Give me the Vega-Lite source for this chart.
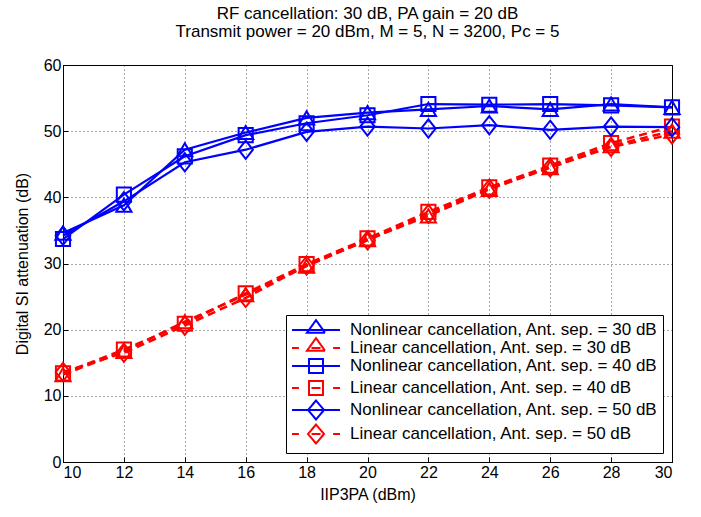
{
  "$schema": "https://vega.github.io/schema/vega-lite/v6.json",
  "width": 609,
  "height": 397,
  "padding": {"left": 14, "top": 5, "right": 5, "bottom": 5},
  "background": "white",
  "title": {
    "text": ["RF cancellation: 30 dB, PA gain = 20 dB", "Transmit power = 20 dBm, M = 5, N = 3200, Pc = 5"],
    "font": "Liberation Sans",
    "fontSize": 17,
    "fontWeight": "normal",
    "color": "black",
    "lineHeight": 18,
    "anchor": "middle",
    "offset": 16
  },
  "config": {
    "view": {"stroke": "black", "strokeWidth": 1},
    "axis": {
      "labelFont": "Liberation Sans",
      "labelFontSize": 16,
      "labelColor": "black",
      "titleFont": "Liberation Sans",
      "titleFontSize": 16,
      "titleFontWeight": "normal",
      "titleColor": "black",
      "domainColor": "black",
      "tickColor": "black",
      "tickSize": -5,
      "labelPadding": 7,
      "grid": true,
      "gridColor": "black",
      "gridDash": [1, 3],
      "gridOpacity": 0.7
    }
  },
  "data": {
    "values": [
      {"s": "Nonlinear cancellation, Ant. sep. = 30 dB", "x": 10, "y": 34.6},
      {"s": "Nonlinear cancellation, Ant. sep. = 30 dB", "x": 12, "y": 38.8},
      {"s": "Nonlinear cancellation, Ant. sep. = 30 dB", "x": 14, "y": 47.2},
      {"s": "Nonlinear cancellation, Ant. sep. = 30 dB", "x": 16, "y": 49.8},
      {"s": "Nonlinear cancellation, Ant. sep. = 30 dB", "x": 18, "y": 52.0},
      {"s": "Nonlinear cancellation, Ant. sep. = 30 dB", "x": 20, "y": 52.8},
      {"s": "Nonlinear cancellation, Ant. sep. = 30 dB", "x": 22, "y": 53.3},
      {"s": "Nonlinear cancellation, Ant. sep. = 30 dB", "x": 24, "y": 53.8},
      {"s": "Nonlinear cancellation, Ant. sep. = 30 dB", "x": 26, "y": 53.3},
      {"s": "Nonlinear cancellation, Ant. sep. = 30 dB", "x": 28, "y": 54.1},
      {"s": "Nonlinear cancellation, Ant. sep. = 30 dB", "x": 30, "y": 53.6},
      {"s": "Linear cancellation, Ant. sep. = 30 dB", "x": 10, "y": 13.2},
      {"s": "Linear cancellation, Ant. sep. = 30 dB", "x": 12, "y": 16.7},
      {"s": "Linear cancellation, Ant. sep. = 30 dB", "x": 14, "y": 21.2},
      {"s": "Linear cancellation, Ant. sep. = 30 dB", "x": 16, "y": 25.3},
      {"s": "Linear cancellation, Ant. sep. = 30 dB", "x": 18, "y": 29.6},
      {"s": "Linear cancellation, Ant. sep. = 30 dB", "x": 20, "y": 33.6},
      {"s": "Linear cancellation, Ant. sep. = 30 dB", "x": 22, "y": 37.2},
      {"s": "Linear cancellation, Ant. sep. = 30 dB", "x": 24, "y": 41.2},
      {"s": "Linear cancellation, Ant. sep. = 30 dB", "x": 26, "y": 44.5},
      {"s": "Linear cancellation, Ant. sep. = 30 dB", "x": 28, "y": 47.8},
      {"s": "Linear cancellation, Ant. sep. = 30 dB", "x": 30, "y": 50.0},
      {"s": "Nonlinear cancellation, Ant. sep. = 40 dB", "x": 10, "y": 33.7},
      {"s": "Nonlinear cancellation, Ant. sep. = 40 dB", "x": 12, "y": 40.4},
      {"s": "Nonlinear cancellation, Ant. sep. = 40 dB", "x": 14, "y": 46.2},
      {"s": "Nonlinear cancellation, Ant. sep. = 40 dB", "x": 16, "y": 49.4},
      {"s": "Nonlinear cancellation, Ant. sep. = 40 dB", "x": 18, "y": 51.2},
      {"s": "Nonlinear cancellation, Ant. sep. = 40 dB", "x": 20, "y": 52.4},
      {"s": "Nonlinear cancellation, Ant. sep. = 40 dB", "x": 22, "y": 54.1},
      {"s": "Nonlinear cancellation, Ant. sep. = 40 dB", "x": 24, "y": 54.0},
      {"s": "Nonlinear cancellation, Ant. sep. = 40 dB", "x": 26, "y": 54.1},
      {"s": "Nonlinear cancellation, Ant. sep. = 40 dB", "x": 28, "y": 53.9},
      {"s": "Nonlinear cancellation, Ant. sep. = 40 dB", "x": 30, "y": 53.6},
      {"s": "Linear cancellation, Ant. sep. = 40 dB", "x": 10, "y": 13.4},
      {"s": "Linear cancellation, Ant. sep. = 40 dB", "x": 12, "y": 17.0},
      {"s": "Linear cancellation, Ant. sep. = 40 dB", "x": 14, "y": 20.9},
      {"s": "Linear cancellation, Ant. sep. = 40 dB", "x": 16, "y": 25.5},
      {"s": "Linear cancellation, Ant. sep. = 40 dB", "x": 18, "y": 29.9},
      {"s": "Linear cancellation, Ant. sep. = 40 dB", "x": 20, "y": 33.8},
      {"s": "Linear cancellation, Ant. sep. = 40 dB", "x": 22, "y": 37.8},
      {"s": "Linear cancellation, Ant. sep. = 40 dB", "x": 24, "y": 41.5},
      {"s": "Linear cancellation, Ant. sep. = 40 dB", "x": 26, "y": 44.8},
      {"s": "Linear cancellation, Ant. sep. = 40 dB", "x": 28, "y": 48.2},
      {"s": "Linear cancellation, Ant. sep. = 40 dB", "x": 30, "y": 50.7},
      {"s": "Nonlinear cancellation, Ant. sep. = 50 dB", "x": 10, "y": 34.2},
      {"s": "Nonlinear cancellation, Ant. sep. = 50 dB", "x": 12, "y": 39.4},
      {"s": "Nonlinear cancellation, Ant. sep. = 50 dB", "x": 14, "y": 45.3},
      {"s": "Nonlinear cancellation, Ant. sep. = 50 dB", "x": 16, "y": 47.2},
      {"s": "Nonlinear cancellation, Ant. sep. = 50 dB", "x": 18, "y": 49.9},
      {"s": "Nonlinear cancellation, Ant. sep. = 50 dB", "x": 20, "y": 50.7},
      {"s": "Nonlinear cancellation, Ant. sep. = 50 dB", "x": 22, "y": 50.4},
      {"s": "Nonlinear cancellation, Ant. sep. = 50 dB", "x": 24, "y": 50.9},
      {"s": "Nonlinear cancellation, Ant. sep. = 50 dB", "x": 26, "y": 50.2},
      {"s": "Nonlinear cancellation, Ant. sep. = 50 dB", "x": 28, "y": 50.7},
      {"s": "Nonlinear cancellation, Ant. sep. = 50 dB", "x": 30, "y": 50.6},
      {"s": "Linear cancellation, Ant. sep. = 50 dB", "x": 10, "y": 13.6},
      {"s": "Linear cancellation, Ant. sep. = 50 dB", "x": 12, "y": 16.5},
      {"s": "Linear cancellation, Ant. sep. = 50 dB", "x": 14, "y": 20.6},
      {"s": "Linear cancellation, Ant. sep. = 50 dB", "x": 16, "y": 24.8},
      {"s": "Linear cancellation, Ant. sep. = 50 dB", "x": 18, "y": 29.7},
      {"s": "Linear cancellation, Ant. sep. = 50 dB", "x": 20, "y": 33.5},
      {"s": "Linear cancellation, Ant. sep. = 50 dB", "x": 22, "y": 37.5},
      {"s": "Linear cancellation, Ant. sep. = 50 dB", "x": 24, "y": 41.3},
      {"s": "Linear cancellation, Ant. sep. = 50 dB", "x": 26, "y": 44.5},
      {"s": "Linear cancellation, Ant. sep. = 50 dB", "x": 28, "y": 47.6},
      {"s": "Linear cancellation, Ant. sep. = 50 dB", "x": 30, "y": 49.5}
    ]
  },
  "encoding": {
    "x": {
      "field": "x", "type": "quantitative",
      "scale": {"domain": [10, 30], "nice": false, "zero": false},
      "axis": {"values": [10, 12, 14, 16, 18, 20, 22, 24, 26, 28, 30], "title": "IIP3PA (dBm)", "titlePadding": 6}
    },
    "y": {
      "field": "y", "type": "quantitative",
      "scale": {"domain": [0, 60], "nice": false},
      "axis": {"values": [0, 10, 20, 30, 40, 50, 60], "title": "Digital SI attenuation (dB)", "titlePadding": 13}
    },
    "color": {
      "field": "s", "type": "nominal",
      "scale": {
        "domain": [
          "Nonlinear cancellation, Ant. sep. = 30 dB",
          "Linear cancellation, Ant. sep. = 30 dB",
          "Nonlinear cancellation, Ant. sep. = 40 dB",
          "Linear cancellation, Ant. sep. = 40 dB",
          "Nonlinear cancellation, Ant. sep. = 50 dB",
          "Linear cancellation, Ant. sep. = 50 dB"
        ],
        "range": ["#0000ff", "#ff0000", "#0000ff", "#ff0000", "#0000ff", "#ff0000"]
      },
      "legend": {
        "title": null,
        "orient": "bottom-right",
        "offset": 9,
        "padding": 5,
        "strokeColor": "black",
        "fillColor": "white",
        "cornerRadius": 0,
        "labelFont": "Liberation Sans",
        "labelFontSize": 17,
        "labelColor": "black",
        "labelLimit": 400,
        "symbolSize": 324,
        "symbolStrokeWidth": 2,
        "symbolFillColor": "transparent",
        "symbolOffset": 15,
        "labelOffset": 24,
        "rowPadding": -5,
        "encode": {
          "symbols": {
            "update": {
              "shape": {"signal": "(datum.value === 'Nonlinear cancellation, Ant. sep. = 30 dB' || datum.value === 'Nonlinear cancellation, Ant. sep. = 40 dB' || datum.value === 'Nonlinear cancellation, Ant. sep. = 50 dB' ? 'M-2.667,0H2.667' : 'M-2.667,0H-1.9M1.9,0H2.667M-0.5,0H0.5') + (datum.value === 'Nonlinear cancellation, Ant. sep. = 30 dB' || datum.value === 'Linear cancellation, Ant. sep. = 30 dB' ? 'M-1,0.3L1,0.3L0,-1.1Z' : (datum.value === 'Nonlinear cancellation, Ant. sep. = 40 dB' || datum.value === 'Linear cancellation, Ant. sep. = 40 dB' ? 'M-0.78,-0.78H0.78V0.78H-0.78Z' : 'M0,-1.05L0.889,0L0,1.05L-0.889,0Z'))"},
              "strokeDash": {"value": [1, 0]},
              "fill": {"value": "transparent"}
            }
          }
        }
      }
    }
  },
  "layer": [
    {
      "transform": [{"filter": {"field": "s", "oneOf": ["Nonlinear cancellation, Ant. sep. = 30 dB", "Nonlinear cancellation, Ant. sep. = 40 dB", "Nonlinear cancellation, Ant. sep. = 50 dB"]}}],
      "mark": {"type": "line", "strokeWidth": 2.2}
    },
    {
      "transform": [{"filter": {"field": "s", "oneOf": ["Linear cancellation, Ant. sep. = 30 dB", "Linear cancellation, Ant. sep. = 40 dB", "Linear cancellation, Ant. sep. = 50 dB"]}}],
      "mark": {"type": "line", "strokeWidth": 2.5, "strokeDash": [8, 5]}
    },
    {
      "transform": [{"filter": {"field": "s", "oneOf": ["Nonlinear cancellation, Ant. sep. = 30 dB", "Linear cancellation, Ant. sep. = 30 dB"]}}],
      "mark": {"type": "point", "filled": false, "strokeWidth": 2, "size": 230, "opacity": 1, "shape": "triangle-up"}
    },
    {
      "transform": [{"filter": {"field": "s", "oneOf": ["Nonlinear cancellation, Ant. sep. = 40 dB", "Linear cancellation, Ant. sep. = 40 dB"]}}],
      "mark": {"type": "point", "filled": false, "strokeWidth": 2, "size": 200, "opacity": 1, "shape": "square"}
    },
    {
      "transform": [{"filter": {"field": "s", "oneOf": ["Nonlinear cancellation, Ant. sep. = 50 dB", "Linear cancellation, Ant. sep. = 50 dB"]}}],
      "mark": {"type": "point", "filled": false, "strokeWidth": 2, "size": 230, "opacity": 1, "shape": "M0,-1.2L0.95,0L0,1.2L-0.95,0Z"}
    }
  ]
}
